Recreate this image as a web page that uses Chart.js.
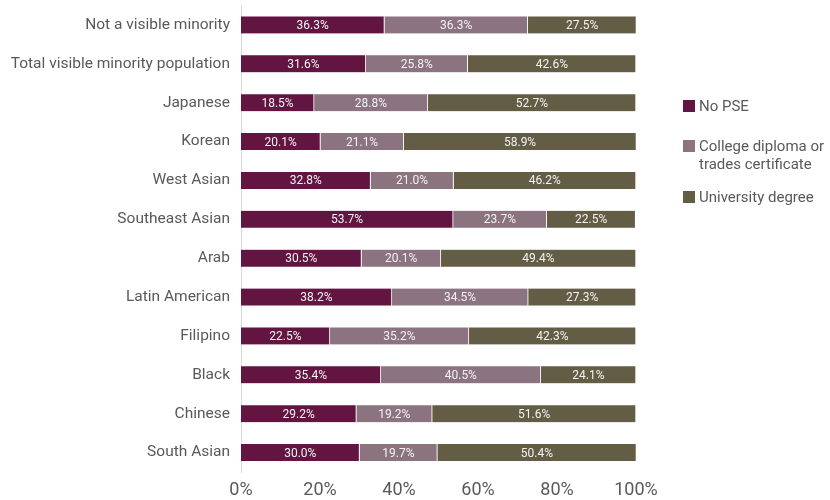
<!DOCTYPE html>
<html>
<head>
<meta charset="utf-8">
<script src="https://cdn.jsdelivr.net/npm/chart.js@4"></script>
<style>
  html, body { margin: 0; padding: 0; background: #fff; }
  #wrap { position: relative; width: 830px; height: 500px; }
  #legend { position: absolute; left: 683px; top: 97px; font-family: Roboto, sans-serif; font-size: 15px; color: #595959; }
  .item { display: flex; align-items: flex-start; line-height: 18px; }
  .sw { width: 12px; height: 12px; margin-top: 3px; margin-right: 4px; flex: none; }
</style>
</head>
<body>
<div id="wrap">
  <canvas id="chart" width="830" height="500"></canvas>
  <div id="legend"></div>
</div>
<script>
const categories = ['Not a visible minority', 'Total visible minority population', 'Japanese', 'Korean', 'West Asian',
  'Southeast Asian', 'Arab', 'Latin American', 'Filipino', 'Black', 'Chinese', 'South Asian'];
const noPse = [36.3, 31.6, 18.5, 20.1, 32.8, 53.7, 30.5, 38.2, 22.5, 35.4, 29.2, 30.0];
const college = [36.3, 25.8, 28.8, 21.1, 21.0, 23.7, 20.1, 34.5, 35.2, 40.5, 19.2, 19.7];
const university = [27.5, 42.6, 52.7, 58.9, 46.2, 22.5, 49.4, 27.3, 42.3, 24.1, 51.6, 50.4];
const seriesNames = ['No PSE', ['College diploma or', 'trades certificate'], 'University degree'];
const colors = ['#621541', '#8b737f', '#635d45'];
const legendGaps = [22, 15, 0];

// labels inside each bar segment
const segmentLabels = {
  id: 'segmentLabels',
  afterDatasetsDraw(chart) {
    const ctx = chart.ctx;
    ctx.save();
    ctx.font = '12px Roboto, sans-serif';
    ctx.fillStyle = '#f2f2f2';
    ctx.textAlign = 'center';
    ctx.textBaseline = 'middle';
    chart.data.datasets.forEach((ds, i) => {
      chart.getDatasetMeta(i).data.forEach((bar, j) => {
        const x = (bar.x + bar.base) / 2;
        ctx.fillText(ds.data[j].toFixed(1) + '%', x, bar.y + 1);
      });
    });
    ctx.restore();
  }
};

const datasets = [noPse, college, university].map((d, i) => ({
  label: Array.isArray(seriesNames[i]) ? seriesNames[i].join(' ') : seriesNames[i],
  data: d,
  backgroundColor: colors[i],
  borderColor: '#ffffff',
  borderWidth: { left: 0, right: 1, top: 0, bottom: 0 },
  borderSkipped: false,
  barThickness: 17
}));

new Chart(document.getElementById('chart'), {
  type: 'bar',
  data: { labels: categories, datasets: datasets },
  options: {
    indexAxis: 'y',
    responsive: false,
    animation: false,
    layout: { padding: { top: 5.5, right: 194, bottom: 0, left: 0 } },
    plugins: { legend: { display: false }, tooltip: { enabled: false } },
    scales: {
      x: {
        stacked: true,
        min: 0,
        max: 100,
        ticks: { stepSize: 20, color: '#595959', font: { family: 'Roboto', size: 18 }, callback: v => v + '%', padding: 8 },
        grid: { display: false, drawTicks: false },
        border: { display: false },
        afterFit: s => { s.height = 28; s.paddingTop = 0; }
      },
      y: {
        stacked: true,
        ticks: { color: '#595959', font: { family: 'Roboto', size: 15.5 }, padding: 11 },
        grid: { display: false, drawTicks: false },
        border: { display: true, color: '#d9d9d9', width: 1 },
        afterFit: s => { s.width = 241; s.paddingTop = 0; s.paddingBottom = 0; }
      }
    }
  },
  plugins: [segmentLabels]
});

const legend = document.getElementById('legend');
seriesNames.forEach((name, i) => {
  const item = document.createElement('div');
  item.className = 'item';
  item.style.marginBottom = legendGaps[i] + 'px';
  const sw = document.createElement('span');
  sw.className = 'sw';
  sw.style.background = colors[i];
  const txt = document.createElement('span');
  txt.innerHTML = Array.isArray(name) ? name.join('<br>') : name;
  item.appendChild(sw);
  item.appendChild(txt);
  legend.appendChild(item);
});
</script>
</body>
</html>
